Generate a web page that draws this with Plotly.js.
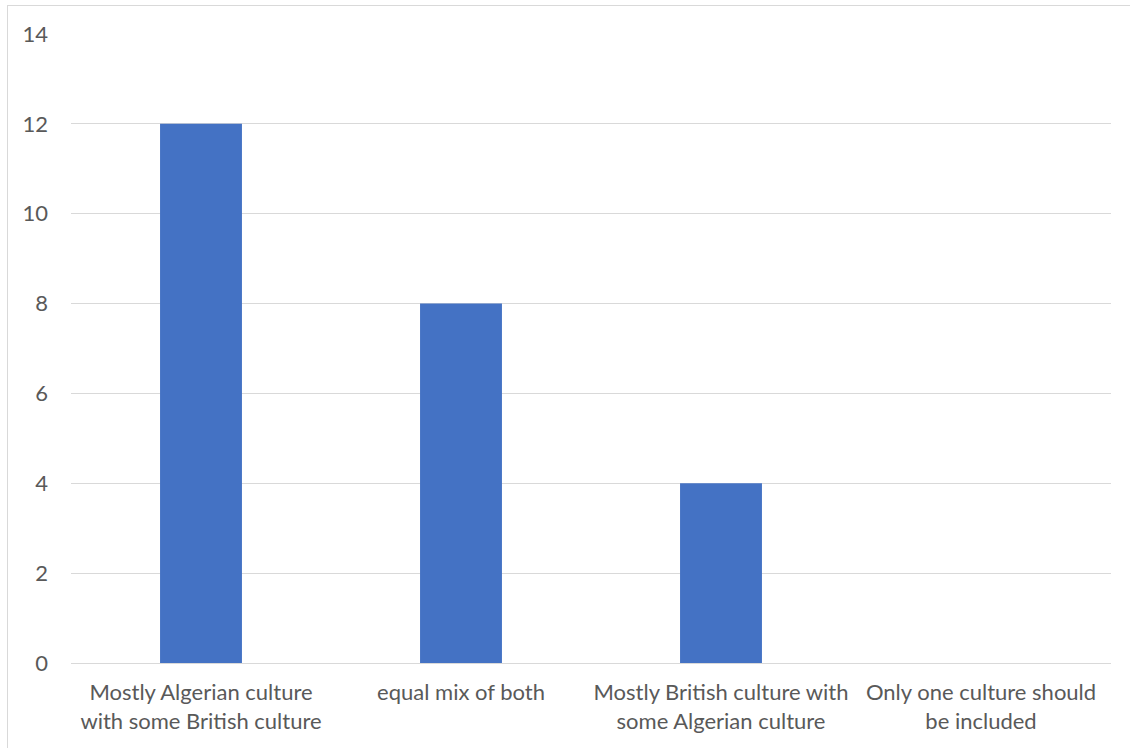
<!DOCTYPE html>
<html>
<head>
<meta charset="utf-8">
<script src="https://cdn.plot.ly/plotly-3.0.1.min.js"></script>
<style>
  html, body { margin: 0; padding: 0; background: #ffffff; }
  #wrap { position: relative; width: 1130px; height: 748px; overflow: hidden; }
  #chart { position: absolute; left: 0; top: 0; width: 1130px; height: 748px; }
  #frame { position: absolute; left: 7px; top: 5px; width: 1140px; height: 760px;
           border: 1px solid #d9d9d9; pointer-events: none; box-sizing: border-box; }
</style>
</head>
<body>
<div id="wrap">
  <div id="chart"></div>
  <div id="frame"></div>
</div>
<script>
// Survey responses: preferred mix of cultures
const categories = [
  'Mostly Algerian culture<br>with some British culture',
  'equal mix of both',
  'Mostly British culture with<br>some Algerian culture',
  'Only one culture should<br>be included'
];
const counts = [12, 8, 4, 0];
const yTicks = [0, 2, 4, 6, 8, 10, 12, 14];

const textFont = { family: 'Lato, "Open Sans", sans-serif', size: 22, color: '#595959' };

const trace = {
  type: 'bar',
  x: categories,
  y: counts,
  marker: { color: '#4472C4' },
  hoverinfo: 'x+y'
};

const layout = {
  width: 1130,
  height: 748,
  margin: { l: 71, r: 19, t: 34, b: 85 },
  paper_bgcolor: '#ffffff',
  plot_bgcolor: '#ffffff',
  showlegend: false,
  bargap: 0.685,
  font: textFont,
  xaxis: {
    type: 'category',
    showgrid: false,
    zeroline: false,
    showline: false,
    ticks: '',
    ticklabelstandoff: 14,
    tickfont: textFont,
    fixedrange: true
  },
  yaxis: {
    range: [0, 14],
    tickvals: yTicks,
    ticktext: yTicks.map(String),
    showgrid: true,
    gridcolor: '#d9d9d9',
    gridwidth: 1,
    zeroline: true,
    zerolinecolor: '#d9d9d9',
    zerolinewidth: 1,
    showline: false,
    ticks: '',
    ticklabelstandoff: 22,
    tickfont: textFont,
    fixedrange: true
  }
};

Plotly.newPlot('chart', [trace], layout, { displayModeBar: false, staticPlot: true });
</script>
</body>
</html>
